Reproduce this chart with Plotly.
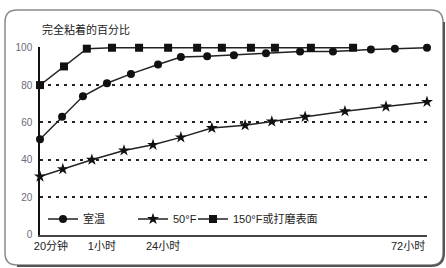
import plotly.graph_objects as go

# Horizontal position along the (non-linear) time axis, 0 = 20分钟, 100 = 72小时
x_room = [0, 5.7, 11.1, 17.3, 23.5, 30.5, 36.4, 43.2, 50.1, 58.4, 67.2, 75.7, 85.5, 91.7, 100]
y_room = [51, 63, 74, 81, 86, 91, 95, 95.5, 96, 97, 98, 98, 99, 99.5, 100]

x_50f = [0, 5.9, 13.4, 21.7, 29.2, 36.4, 44.4, 53.0, 59.9, 68.5, 78.8, 89.4, 100]
y_50f = [31, 35, 40, 45, 48, 52, 57, 58.5, 60.5, 63, 66, 68.5, 71]

x_150f = [0, 6.2, 12.1, 18.6, 25.6, 33.1, 40.6, 47.0, 54.5, 60.7, 70.0, 80.9]
y_150f = [80, 90, 99.5, 100, 100, 100, 100, 100, 100, 100, 100, 100]

series_names = ["室温", "50°F", "150°F或打磨表面"]
x_tick_vals = [2.84, 16.0, 31.8, 95.1]
x_tick_text = ["20分钟", "1小时", "24小时", "72小时"]
y_tick_vals = [0, 20, 40, 60, 80, 100]
title_text = "完全粘着的百分比"

FONT = "Liberation Sans, Arial, Noto Sans CJK SC, sans-serif"
LINE = "#222222"

fig = go.Figure()
fig.add_trace(go.Scatter(x=x_room, y=y_room, name=series_names[0], mode="lines+markers",
                         line=dict(color=LINE, width=1.5),
                         marker=dict(symbol="circle", size=8, color="#111111"),
                         cliponaxis=False, legend="legend", showlegend=True))
fig.add_trace(go.Scatter(x=x_50f, y=y_50f, name=series_names[1], mode="lines+markers",
                         line=dict(color=LINE, width=1.5),
                         marker=dict(symbol="star", size=9, color="#111111"),
                         cliponaxis=False, legend="legend2", showlegend=True))
fig.add_trace(go.Scatter(x=x_150f, y=y_150f, name=series_names[2], mode="lines+markers",
                         line=dict(color=LINE, width=1.5),
                         marker=dict(symbol="square", size=8, color="#111111"),
                         cliponaxis=False, legend="legend3", showlegend=True))

# Plot area: x 40..427 px, y 47..235 px
def px_x(p):
    return (p - 40) / 387.0

def px_y(p):
    return (235 - p) / 188.0

L, R, T, B = px_x(5), px_x(443), px_y(10), px_y(265)
rx, ry = 12 / 387.0, 12 / 188.0
frame = (f"M {L+rx},{T} L {R-rx},{T} Q {R},{T} {R},{T-ry} L {R},{B+ry} "
         f"Q {R},{B} {R-rx},{B} L {L+rx},{B} Q {L},{B} {L},{B+ry} L {L},{T-ry} Q {L},{T} {L+rx},{T} Z")
shadow = (f"M {R+1/387},{T-ry} L {R+1/387},{B+ry} Q {R+1/387},{B-1/188} {R-rx},{B-1/188} L {L+rx},{B-1/188}")

legend_common = dict(orientation="h", bgcolor="rgba(0,0,0,0)", yanchor="middle",
                     font=dict(family=FONT, size=11, color="#222222"), itemwidth=30)

fig.update_layout(
    width=446, height=268,
    showlegend=True,
    margin=dict(l=40, r=19, t=47, b=33),
    paper_bgcolor="white", plot_bgcolor="white",
    font=dict(family=FONT, color="#222222"),
    xaxis=dict(range=[0, 100], showgrid=False, zeroline=False, showline=True,
               linecolor="#444444", linewidth=1.5, ticks="",
               tickvals=x_tick_vals, ticktext=x_tick_text,
               tickfont=dict(family=FONT, size=11, color="#222222")),
    yaxis=dict(range=[-0.3, 100.4], showgrid=True, gridcolor="#222222", gridwidth=1.5,
               griddash="3px,5px", zeroline=False, showline=True, linecolor="#111111",
               linewidth=1.5, ticks="", tickvals=y_tick_vals, ticklabelstandoff=4,
               tickfont=dict(family=FONT, size=10, color="#6a6a78")),
    legend=dict(x=px_x(43), y=px_y(219), xanchor="left", **legend_common),
    legend2=dict(x=px_x(133), y=px_y(219), xanchor="left", **legend_common),
    legend3=dict(x=px_x(193), y=px_y(219), xanchor="left", **legend_common),
    shapes=[
        dict(type="path", xref="paper", yref="paper", path=frame,
             line=dict(color="#8a8a8a", width=1.5), layer="below"),
        dict(type="path", xref="paper", yref="paper", path=shadow,
             line=dict(color="#555555", width=2), layer="below"),
    ],
    annotations=[dict(text=title_text, xref="paper", yref="paper", x=0, y=px_y(30),
                      xanchor="left", yanchor="middle", showarrow=False,
                      font=dict(family=FONT, size=11, color="#222222"))],
)

fig.write_html("out.html", config={"displayModeBar": False},
               post_script="document.body.style.margin='0';document.body.style.overflow='hidden';")
